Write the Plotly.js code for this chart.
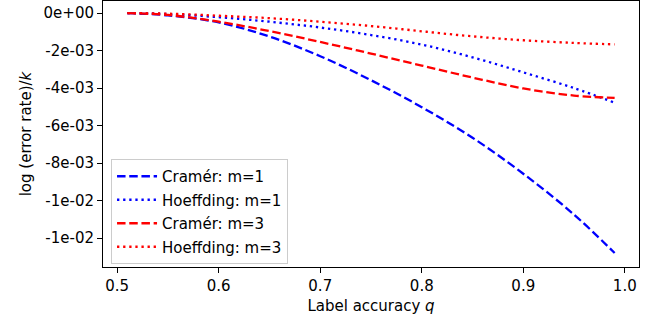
<!DOCTYPE html>
<html>
<head>
<meta charset="utf-8">
<script src="https://cdn.plot.ly/plotly-3.0.1.min.js"></script>
<style>html,body{margin:0;padding:0;background:#fff;}#chart{width:653px;height:323px;}</style>
</head>
<body>
<div id="chart"></div>
<script>
// Label accuracy q
const q = [0.51, 0.55, 0.60, 0.65, 0.70, 0.75, 0.80, 0.85, 0.90, 0.95, 0.99];
// log(error rate)/k
const cramerM1    = [0, -0.00012, -0.00050, -0.00125, -0.00230, -0.00358, -0.00502, -0.00665, -0.00857, -0.01075, -0.01280];
const hoeffdingM1 = [0, -0.00005, -0.00022, -0.00046, -0.00077, -0.00117, -0.00168, -0.00236, -0.00316, -0.00400, -0.00478];
const cramerM3    = [0, -0.00010, -0.00046, -0.00096, -0.00154, -0.00216, -0.00280, -0.00344, -0.00402, -0.00440, -0.00452];
const hoeffdingM3 = [0, -0.00003, -0.00014, -0.00027, -0.00046, -0.00069, -0.00097, -0.00124, -0.00145, -0.00159, -0.00167];

const names = ['Cramér: m=1', 'Hoeffding: m=1', 'Cramér: m=3', 'Hoeffding: m=3'];
const series = [cramerM1, hoeffdingM1, cramerM3, hoeffdingM3];
const colors = ['#0000ff', '#0000ff', '#ff0000', '#ff0000'];
const dashes = ['8.5px,3.7px', '2.3px,3.8px', '8.5px,3.7px', '2.3px,3.8px'];

const yTickVals = [0, -0.002, -0.004, -0.006, -0.008, -0.010, -0.012];
const yTickText = ['0e+00', '-2e-03', '-4e-03', '-6e-03', '-8e-03', '-1e-02', '-1e-02'];
const xTickVals = [0.5, 0.6, 0.7, 0.8, 0.9, 1.0];
const xTickText = ['0.5', '0.6', '0.7', '0.8', '0.9', '1.0'];

const traces = series.map((ys, i) => ({
  x: q, y: ys, type: 'scatter', mode: 'lines', name: names[i],
  legendgroup: 'g' + i,
  line: {color: colors[i], width: 2.3, dash: dashes[i], shape: 'spline', smoothing: 1}
}));

const font = {family: 'DejaVu Sans, sans-serif', size: 15, color: '#000'};
const layout = {
  width: 653, height: 323,
  margin: {l: 103, r: 14, t: 1, b: 56},
  paper_bgcolor: '#fff', plot_bgcolor: '#fff',
  font: font,
  showlegend: true,
  legend: {
    x: 0.015, y: 0.406, xanchor: 'left', yanchor: 'top',
    bgcolor: 'rgba(255,255,255,0.8)', bordercolor: '#cccccc', borderwidth: 1,
    font: font, tracegroupgap: 1, traceorder: 'grouped', itemwidth: 40
  },
  xaxis: {
    range: [0.486, 1.014],
    tickvals: xTickVals, ticktext: xTickText,
    ticks: 'outside', ticklen: 5, tickwidth: 1, tickcolor: '#000',
    showgrid: false, zeroline: false,
    showline: true, linecolor: '#000', linewidth: 1, mirror: true,
    title: {text: 'Label accuracy <i>q</i>', font: font, standoff: 6}
  },
  yaxis: {
    range: [-0.013545, 0.000645],
    tickvals: yTickVals, ticktext: yTickText,
    ticks: 'outside', ticklen: 5, tickwidth: 1, tickcolor: '#000',
    showgrid: false, zeroline: false,
    showline: true, linecolor: '#000', linewidth: 1, mirror: true,
    title: {text: 'log (error rate)/<i>k</i>', font: font, standoff: 8}
  }
};

Plotly.newPlot('chart', traces, layout, {displayModeBar: false, staticPlot: true});
</script>
</body>
</html>
